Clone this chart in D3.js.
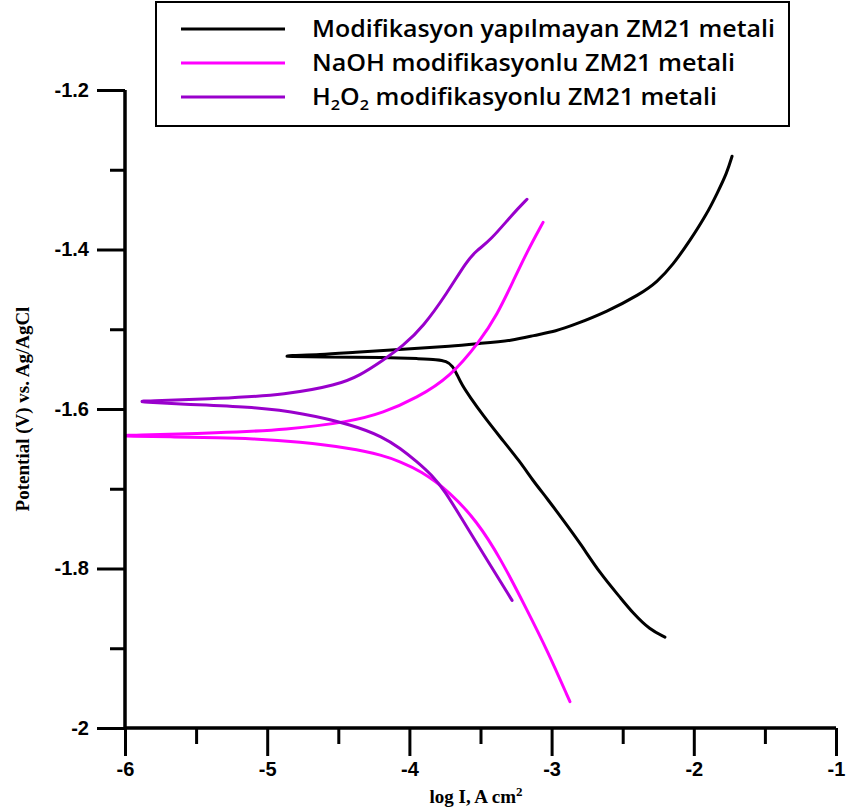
<!DOCTYPE html>
<html>
<head>
<meta charset="utf-8">
<script src="https://cdn.jsdelivr.net/npm/d3@7"></script>
<style>
  html, body { margin: 0; padding: 0; background: #fff; }
  svg { display: block; }
</style>
</head>
<body>
<svg id="chart" width="847" height="811"></svg>
<script>
// Tafel polarization curves: [log I, potential (V vs Ag/AgCl)], traced cathodic end -> Ecorr -> anodic end
const seriesNames = [
  "Modifikasyon yapılmayan ZM21 metali",
  "NaOH modifikasyonlu ZM21 metali",
  "H2O2 modifikasyonlu ZM21 metali"
];
const seriesColors = ["#000000", "#ff00ff", "#9900cc"];

const untreated = [
  [-2.203, -1.886], [-2.308, -1.877], [-2.428, -1.856], [-2.519, -1.836], [-2.660, -1.806],
  [-2.800, -1.768], [-2.920, -1.739], [-3.032, -1.712], [-3.131, -1.690], [-3.222, -1.666],
  [-3.363, -1.635], [-3.482, -1.608], [-3.574, -1.585], [-3.630, -1.570], [-3.665, -1.557],
  [-3.695, -1.546], [-3.740, -1.540], [-3.806, -1.538], [-3.925, -1.537], [-4.158, -1.535],
  [-4.629, -1.535], [-4.861, -1.534], [-4.861, -1.534], [-4.861, -1.533],
  [-4.629, -1.532], [-4.397, -1.529], [-4.045, -1.525], [-3.693, -1.521], [-3.518, -1.518],
  [-3.271, -1.514], [-3.130, -1.508], [-2.962, -1.502], [-2.850, -1.495], [-2.610, -1.478],
  [-2.378, -1.456], [-2.259, -1.441], [-2.146, -1.419], [-2.027, -1.389], [-1.907, -1.355],
  [-1.837, -1.330], [-1.767, -1.304], [-1.731, -1.283]
];

const naoh = [
  [-2.871, -1.967], [-3.032, -1.902], [-3.173, -1.852], [-3.363, -1.786], [-3.525, -1.741],
  [-3.714, -1.704], [-3.925, -1.677], [-4.066, -1.666], [-4.186, -1.658], [-4.418, -1.649],
  [-4.769, -1.641], [-5.121, -1.637], [-5.332, -1.636], [-5.648, -1.635], [-5.993, -1.634],
  [-5.993, -1.634], [-5.993, -1.633],
  [-5.993, -1.633], [-5.332, -1.630], [-4.861, -1.626], [-4.418, -1.616], [-4.186, -1.605],
  [-3.947, -1.586], [-3.714, -1.560], [-3.504, -1.515], [-3.384, -1.482], [-3.271, -1.440],
  [-3.173, -1.403], [-3.060, -1.366]
];

const h2o2 = [
  [-3.278, -1.840], [-3.482, -1.781], [-3.644, -1.734], [-3.750, -1.703], [-3.841, -1.683],
  [-3.947, -1.666], [-4.066, -1.649], [-4.186, -1.635], [-4.397, -1.620], [-4.748, -1.605],
  [-5.121, -1.597], [-5.613, -1.594], [-5.880, -1.591], [-5.880, -1.591],
  [-5.880, -1.590], [-5.880, -1.590], [-5.332, -1.587], [-4.861, -1.582], [-4.509, -1.570],
  [-4.348, -1.558], [-4.186, -1.539], [-4.045, -1.521], [-3.904, -1.497], [-3.736, -1.455],
  [-3.595, -1.414], [-3.525, -1.401], [-3.433, -1.389], [-3.271, -1.355], [-3.173, -1.337]
];

const xMajorTicks = [-6, -5, -4, -3, -2, -1];
const xMinorTicks = [-5.5, -4.5, -3.5, -2.5, -1.5];
const yMajorTicks = [-1.2, -1.4, -1.6, -1.8, -2];
const yMinorTicks = [-1.3, -1.5, -1.7, -1.9];

const xTitle = "log I, A cm";
const yTitle = "Potential (V) vs. Ag/AgCl";

const svg = d3.select("#chart");
const x = d3.scaleLinear().domain([-6, -1]).range([125, 836]);
const y = d3.scaleLinear().domain([-2, -1.2]).range([728, 90]);

const tickFont = "'Liberation Sans', Arial, sans-serif";
const serif = "'Liberation Serif', 'Times New Roman', serif";
// plain hyphen-minus for negative tick values
const hyphenFmt = d => String(d).replace("\u2212", "-");

// Curves
const line = d3.line().x(d => x(d[0])).y(d => y(d[1])).curve(d3.curveBasis);
[untreated, naoh, h2o2].forEach((data, i) => {
  svg.append("path")
    .datum(data)
    .attr("d", line)
    .attr("fill", "none")
    .attr("stroke", seriesColors[i])
    .attr("stroke-width", 3)
    .attr("stroke-linejoin", "round")
    .attr("stroke-linecap", "round");
});

// X axis
const xAxisG = svg.append("g").attr("transform", `translate(0,${y(-2)})`);
xAxisG.call(d3.axisBottom(x).tickValues(xMajorTicks).tickSize(28).tickPadding(8).tickFormat(hyphenFmt));
xAxisG.append("g").call(d3.axisBottom(x).tickValues(xMinorTicks).tickSize(16).tickFormat(""));
xAxisG.selectAll(".domain").attr("stroke-width", 3).attr("d", `M${x(-6)},0H${x(-1)}`);
xAxisG.selectAll(".tick line").attr("stroke-width", 3);
xAxisG.selectAll(".tick text")
  .attr("font-family", tickFont).attr("font-weight", "bold").attr("font-size", 20).attr("fill", "#000")
  .attr("dy", "0.6em");

// Y axis
const yAxisG = svg.append("g").attr("transform", `translate(${x(-6)},0)`);
yAxisG.call(d3.axisLeft(y).tickValues(yMajorTicks).tickSize(28).tickPadding(8).tickFormat(hyphenFmt));
yAxisG.append("g").call(d3.axisLeft(y).tickValues(yMinorTicks).tickSize(15).tickFormat(""));
yAxisG.selectAll(".domain").attr("stroke-width", 3).attr("d", `M0,${y(-1.2)}V${y(-2)}`);
yAxisG.selectAll(".tick line").attr("stroke-width", 3);
yAxisG.selectAll(".tick text")
  .attr("font-family", tickFont).attr("font-weight", "bold").attr("font-size", 20).attr("fill", "#000");

// Axis titles
const xt = svg.append("text")
  .attr("x", 476).attr("y", 803)
  .attr("text-anchor", "middle")
  .attr("font-family", serif).attr("font-weight", "bold").attr("font-size", 19);
xt.append("tspan").text(xTitle);
xt.append("tspan").attr("dy", -7).attr("font-size", 13).text("2");

svg.append("text")
  .attr("transform", `translate(29,409) rotate(-90)`)
  .attr("text-anchor", "middle")
  .attr("font-family", serif).attr("font-weight", "bold").attr("font-size", 19)
  .text(yTitle);

// Legend
const legend = svg.append("g");
legend.append("rect")
  .attr("x", 156).attr("y", 2).attr("width", 633).attr("height", 124)
  .attr("fill", "#fff").attr("stroke", "#000").attr("stroke-width", 2);
const legendFont = "'Open Sans', 'Noto Sans', sans-serif";
const rowY = [29, 63, 97];
const rowWidth = [463, 423, 405];
seriesNames.forEach((name, i) => {
  legend.append("line")
    .attr("x1", 181).attr("x2", 285).attr("y1", rowY[i]).attr("y2", rowY[i])
    .attr("stroke", seriesColors[i]).attr("stroke-width", 3);
  const t = legend.append("text")
    .attr("x", 312).attr("y", rowY[i] + 8)
    .attr("font-family", legendFont).attr("font-weight", 600).attr("font-size", 23)
    .attr("textLength", rowWidth[i]).attr("lengthAdjust", "spacingAndGlyphs")
    .attr("fill", "#000");
  if (i === 2) {
    t.append("tspan").text("H");
    t.append("tspan").attr("font-size", 15).attr("dy", 5).text("2");
    t.append("tspan").attr("dy", -5).text("O");
    t.append("tspan").attr("font-size", 15).attr("dy", 5).text("2");
    t.append("tspan").attr("dy", -5).text(" modifikasyonlu ZM21 metali");
  } else {
    t.text(name);
  }
});
</script>
</body>
</html>
